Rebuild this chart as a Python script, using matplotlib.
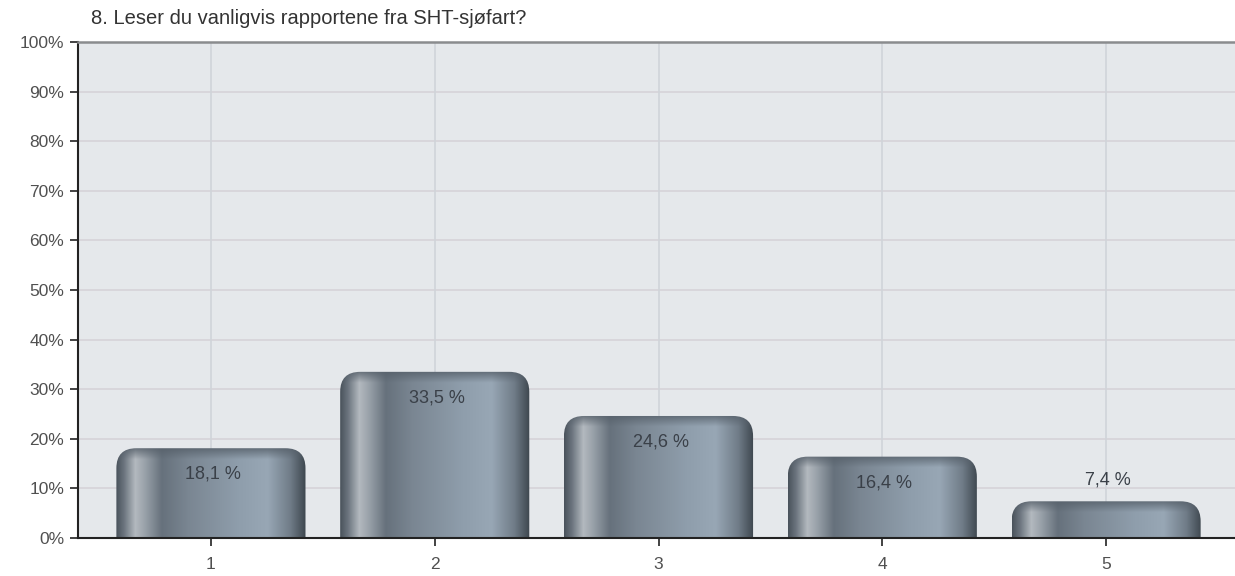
import numpy as np
import matplotlib
matplotlib.use('Agg')
import matplotlib.pyplot as plt
from matplotlib.patches import FancyBboxPatch
from matplotlib.colors import to_rgb

plt.rcParams['font.family'] = ['Liberation Sans', 'DejaVu Sans']

# data
categories = ['1', '2', '3', '4', '5']
values = [18.1, 33.5, 24.6, 16.4, 7.4]
labels = ['18,1 %', '33,5 %', '24,6 %', '16,4 %', '7,4 %']
title = '8. Leser du vanligvis rapportene fra SHT-sjøfart?'

W, H = 1235, 576
fig = plt.figure(figsize=(W / 100, H / 100), dpi=100)
ax = fig.add_axes([78 / W, (H - 538) / H, 1 - 78 / W, (538 - 42) / H])

x = np.arange(1, len(categories) + 1)
xlim = (0.406, 5.576)
ylim = (0, 100)
ax.set_xlim(*xlim)
ax.set_ylim(*ylim)
ax.set_facecolor('#e5e8eb')

# grid
for v in range(10, 100, 10):
    ax.axhline(v, color='#d6d3d8', lw=1.2, zorder=1)
for xi in x:
    ax.axvline(xi, color='#d0d4d9', lw=1.2, zorder=1)

# pixel scales for rounding and shading
px_x = (xlim[1] - xlim[0]) / (W - 78)
px_y = (ylim[1] - ylim[0]) / (538 - 42)

# horizontal shading of the cylinder bars
stops = [(0.0, '#4a535c'), (0.04, '#6b747e'), (0.10, '#b3b9bf'), (0.15, '#9aa2aa'),
         (0.24, '#66717c'), (0.38, '#7a8692'), (0.65, '#8f9eac'), (0.80, '#98a7b5'),
         (0.92, '#707c88'), (1.0, '#3e474f')]
ncol = 200
pos = np.linspace(0, 1, ncol)
prof = np.zeros((ncol, 3))
sp = [s[0] for s in stops]
for c in range(3):
    prof[:, c] = np.interp(pos, sp, [to_rgb(s[1])[c] for s in stops])
cap = np.array(to_rgb('#56606a'))

bw = 0.845
for xi, v, lab in zip(x, values, labels):
    x0 = xi - bw / 2
    patch = FancyBboxPatch((x0, -10), bw, v + 10,
                           boxstyle='round,pad=0,rounding_size=%f' % (20 * px_x),
                           mutation_aspect=px_y / px_x,
                           facecolor='none', edgecolor='none', zorder=2)
    ax.add_patch(patch)
    nrow = 120
    ys = np.linspace(v, 0, nrow)
    depth = (v - ys) / px_y  # pixels below bar top
    w = np.clip(1 - depth / 11, 0, 1)[:, None, None] * 0.8
    img = prof[None, :, :] * (1 - w) + cap[None, None, :] * w
    im = ax.imshow(img, extent=(x0, x0 + bw, 0, v), aspect='auto',
                   interpolation='bilinear', zorder=2)
    im.set_clip_path(patch)
    if v >= 10:
        ty = v - 26 * px_y
    else:
        ty = v + 21 * px_y
    ax.text(xi + 2 * px_x, ty, lab, ha='center', va='center', fontsize=13,
            color='#3a4048', zorder=3)

ax.set_xticks(x)
ax.set_xticklabels(categories)
ax.set_yticks(range(0, 101, 10))
ax.set_yticklabels(['%d%%' % t for t in range(0, 101, 10)])
ax.tick_params(axis='both', labelsize=12.5, labelcolor='#505050', color='#222222',
               length=6, width=1.2, direction='out')
ax.tick_params(axis='x', pad=8)
ax.tick_params(axis='y', pad=4)

ax.spines['right'].set_visible(False)
ax.spines['left'].set_color('#222222')
ax.spines['left'].set_linewidth(1.5)
ax.spines['bottom'].set_color('#222222')
ax.spines['bottom'].set_linewidth(1.5)
ax.spines['top'].set_color('#8a8c8e')
ax.spines['top'].set_linewidth(1.8)

fig.text(91 / W, 1 - 19 / H, title, ha='left', va='center', fontsize=14.5, color='#333333')

fig.savefig('out.png', dpi=100, facecolor='white')
